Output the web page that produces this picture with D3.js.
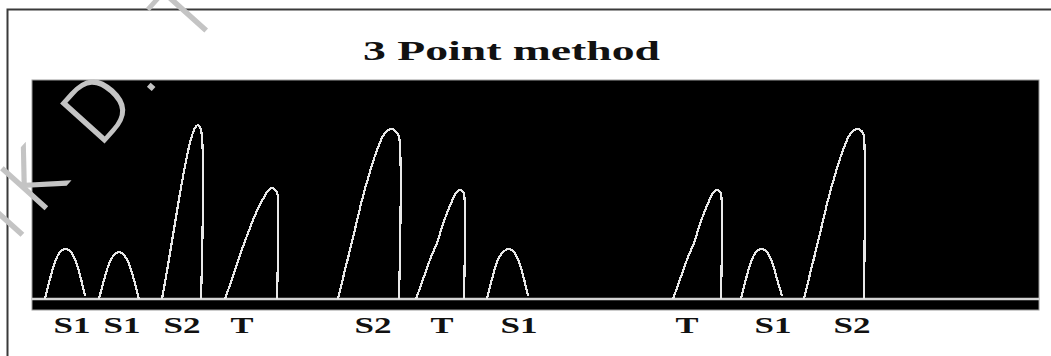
<!DOCTYPE html>
<html>
<head>
<meta charset="utf-8">
<script src="https://cdn.jsdelivr.net/npm/d3@7"></script>
<style>
  html, body { margin: 0; padding: 0; background: #fff; }
  svg { display: block; }
</style>
</head>
<body>
<svg id="chart" width="1051" height="356"></svg>
<script>
// ---- data (x: sample index, y: amplitude) ----
const title = "3 Point method";
const watermark = "IK D. T";

const s1a = [[13,0],[18,20],[23,37],[28,47],[34,50],[39,47],[44,37],[49,20],[53,3]];
const s1b = [[67,0],[72,19],[77,35],[82,44],[87,47],[92,44],[97,35],[102,19],[107,0]];
const s2a = [[130,0],[135,28],[140,58],[145,88],[150,117],[155,143],[159,160],[163,171],[166,174],[169,169],[169,0]];
const ta  = [[193,0],[200,20],[208,44],[216,66],[224,86],[231,100],[236,108],[240,111],[244,108],[245,107],[245,0]];
const s2b = [[306,0],[312,25],[318,49],[324,74],[330,99],[337,124],[345,149],[353,166],[360,170],[365,166],[367,162],[367,0]];
const tb  = [[384,0],[389,14],[394,28],[399,42],[405,56],[410,72],[415,86],[420,98],[424,106],[427,109],[431,107],[432,105],[432,0]];
const s1c = [[455,0],[460,20],[465,37],[471,47],[477,50],[482,47],[487,37],[492,20],[496,3]];
const tc  = [[641,0],[646,14],[651,28],[656,42],[662,56],[667,72],[672,86],[677,98],[681,106],[684,109],[688,107],[689,105],[689,0]];
const s1d = [[709,0],[714,20],[719,37],[724,47],[730,50],[735,47],[740,37],[745,20],[750,3]];
const s2c = [[772,0],[778,25],[784,49],[790,74],[796,99],[803,124],[811,149],[819,166],[826,170],[831,166],[832,162],[832,0]];

const waves = [s1a, s1b, s2a, ta, s2b, tb, s1c, tc, s1d, s2c];

const labels    = ["S1","S1","S2","T","S2","T","S1","T","S1","S2"];
const labelPos  = [40, 90, 150, 210, 341, 410, 487, 655, 741, 820];

const xDomain = [0, 1007];
const yDomain = [0, 220];

// ---- layout ----
const svg = d3.select("#chart");
const plot = {left: 32, right: 1039, top: 80, base: 299, bottom: 310};

const x = d3.scaleLinear().domain(xDomain).range([plot.left, plot.right]);
const y = d3.scaleLinear().domain(yDomain).range([plot.base, plot.base - 220]);

// outer frame
svg.append("rect")
  .attr("x", 7.5).attr("y", 9.5)
  .attr("width", 1080).attr("height", 380)
  .attr("fill", "none").attr("stroke", "#3a3a3a").attr("stroke-width", 2);

// title
svg.append("text")
  .attr("x", 363).attr("y", 60)
  .attr("textLength", 297).attr("lengthAdjust", "spacingAndGlyphs")
  .attr("font-family", "'Liberation Serif', 'Times New Roman', serif")
  .attr("font-weight", "bold").attr("font-size", 28)
  .attr("fill", "#111")
  .text(title);

// plot background
svg.append("rect")
  .attr("x", plot.left).attr("y", plot.top)
  .attr("width", plot.right - plot.left).attr("height", plot.bottom - plot.top)
  .attr("fill", "#000").attr("stroke", "#9a9a9a").attr("stroke-width", 1);

// baseline
svg.append("line")
  .attr("x1", x(xDomain[0])).attr("x2", x(xDomain[1]))
  .attr("y1", y(0)).attr("y2", y(0))
  .attr("stroke", "#d4d4d4").attr("stroke-width", 2.5);

// waves
const line = d3.line()
  .x(d => x(d[0]))
  .y(d => y(d[1]))
  .curve(d3.curveCatmullRom.alpha(0.5));

svg.append("g").selectAll("path")
  .data(waves)
  .join("path")
  .attr("d", line)
  .attr("fill", "none")
  .attr("stroke", "#e8e8e8")
  .attr("stroke-width", 2.2)
  .attr("shape-rendering", "crispEdges");

// labels
svg.append("g").selectAll("text")
  .data(labels)
  .join("text")
  .attr("x", (d, i) => x(labelPos[i]))
  .attr("y", 333)
  .attr("text-anchor", "middle")
  .attr("textLength", d => d === "T" ? 23 : 37)
  .attr("lengthAdjust", "spacingAndGlyphs")
  .attr("font-family", "'Liberation Serif', 'Times New Roman', serif")
  .attr("font-weight", "bold").attr("font-size", 24)
  .attr("fill", "#111")
  .text(d => d);

// watermark
svg.append("text")
  .attr("transform", "translate(14,243) rotate(-48)")
  .attr("font-family", "'DejaVu Sans', sans-serif")
  .attr("font-weight", 200)
  .attr("font-size", 80)
  .attr("letter-spacing", 8)
  .attr("fill", "#c4c4c4")
  .attr("stroke", "#c4c4c4")
  .attr("stroke-width", 1.5)
  .text(watermark);
</script>
</body>
</html>
